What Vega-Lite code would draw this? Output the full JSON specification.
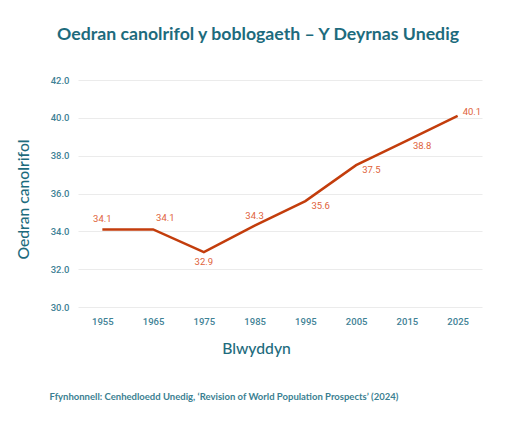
{
  "$schema": "https://vega.github.io/schema/vega-lite/v6.json",
  "autosize": "none",
  "width": 404,
  "height": 227,
  "padding": {"left": 78, "top": 80, "right": 30, "bottom": 121},
  "background": "white",
  "title": {
    "text": "Oedran canolrifol y boblogaeth – Y Deyrnas Unedig",
    "font": "Lato",
    "fontSize": 17.7,
    "fontWeight": "bold",
    "color": "#1d6b7d",
    "anchor": "middle",
    "dx": -22,
    "offset": 31
  },
  "data": {
    "values": [
      {"year": "1955", "age": 34.1},
      {"year": "1965", "age": 34.1},
      {"year": "1975", "age": 32.9},
      {"year": "1985", "age": 34.3},
      {"year": "1995", "age": 35.6},
      {"year": "2005", "age": 37.5},
      {"year": "2015", "age": 38.8},
      {"year": "2025", "age": 40.1}
    ]
  },
  "encoding": {
    "y": {
      "field": "age",
      "type": "quantitative",
      "scale": {"domain": [30, 42], "nice": false, "zero": false},
      "axis": {
        "title": "Oedran canolrifol",
        "values": [30, 32, 34, 36, 38, 40, 42],
        "format": ".1f",
        "titleX": -55,
        "titleY": 119,
        "titleAngle": -90,
        "titleAlign": "center",
        "titleBaseline": "middle",
        "titleFontSize": 15.7,
        "titleFontWeight": 500
      }
    }
  },
  "resolve": {"axis": {"x": "independent"}},
  "layer": [
    {
      "mark": {"type": "line", "color": "#c33d0c", "strokeWidth": 2.5},
      "encoding": {
        "x": {
          "field": "year",
          "type": "ordinal",
          "scale": {"type": "point", "padding": 0.48},
          "axis": {
            "orient": "bottom",
            "title": "Blwyddyn",
            "labelAngle": 0,
            "grid": false,
            "titleX": 178,
            "titleY": 41,
            "titleAlign": "center",
            "titleBaseline": "middle",
            "titleFontSize": 15.7,
            "titleFontWeight": 500
          }
        }
      }
    },
    {
      "transform": [{"filter": "datum.year == '1955' || datum.year == '1985'"}],
      "mark": {"type": "text", "align": "center", "baseline": "bottom", "dy": -5},
      "encoding": {
        "x": {
          "field": "year",
          "type": "ordinal",
          "scale": {"type": "point", "padding": 0.48},
          "axis": {
            "orient": "bottom",
            "title": "Ffynhonnell: Cenhedloedd Unedig, ‘Revision of World Population Prospects’ (2024)",
            "labels": false,
            "grid": false,
            "titleX": -29,
            "titleY": 89,
            "titleAlign": "left",
            "titleAnchor": "start",
            "titleBaseline": "middle",
            "titleFontSize": 9.5,
            "titleFontWeight": "bold",
            "titleColor": "#3b7f92"
          }
        },
        "text": {"field": "age", "type": "quantitative", "format": ".1f"}
      }
    },
    {
      "transform": [{"filter": "datum.year == '1965'"}],
      "mark": {"type": "text", "align": "left", "baseline": "bottom", "dx": 3, "dy": -6},
      "encoding": {
        "x": {"field": "year", "type": "ordinal", "scale": {"type": "point", "padding": 0.48}, "axis": null},
        "text": {"field": "age", "type": "quantitative", "format": ".1f"}
      }
    },
    {
      "transform": [{"filter": "datum.year == '1975'"}],
      "mark": {"type": "text", "align": "center", "baseline": "top", "dy": 5},
      "encoding": {
        "x": {"field": "year", "type": "ordinal", "scale": {"type": "point", "padding": 0.48}, "axis": null},
        "text": {"field": "age", "type": "quantitative", "format": ".1f"}
      }
    },
    {
      "transform": [{"filter": "datum.year == '1995' || datum.year == '2005' || datum.year == '2015'"}],
      "mark": {"type": "text", "align": "left", "baseline": "top", "dx": 6, "dy": 0},
      "encoding": {
        "x": {"field": "year", "type": "ordinal", "scale": {"type": "point", "padding": 0.48}, "axis": null},
        "text": {"field": "age", "type": "quantitative", "format": ".1f"}
      }
    },
    {
      "transform": [{"filter": "datum.year == '2025'"}],
      "mark": {"type": "text", "align": "left", "baseline": "middle", "dx": 5, "dy": -4},
      "encoding": {
        "x": {"field": "year", "type": "ordinal", "scale": {"type": "point", "padding": 0.48}, "axis": null},
        "text": {"field": "age", "type": "quantitative", "format": ".1f"}
      }
    }
  ],
  "config": {
    "view": {"stroke": null},
    "font": "Lato",
    "text": {"font": "Roboto", "fontSize": 9.5, "color": "#e0623a"},
    "axis": {
      "domain": false,
      "ticks": false,
      "gridColor": "#ebebeb",
      "gridWidth": 1,
      "labelFont": "Roboto",
      "labelFontSize": 9.5,
      "labelFontWeight": 500,
      "labelColor": "#3f8296",
      "labelPadding": 9,
      "titleFont": "Lato",
      "titleColor": "#1d6b7d"
    }
  }
}
